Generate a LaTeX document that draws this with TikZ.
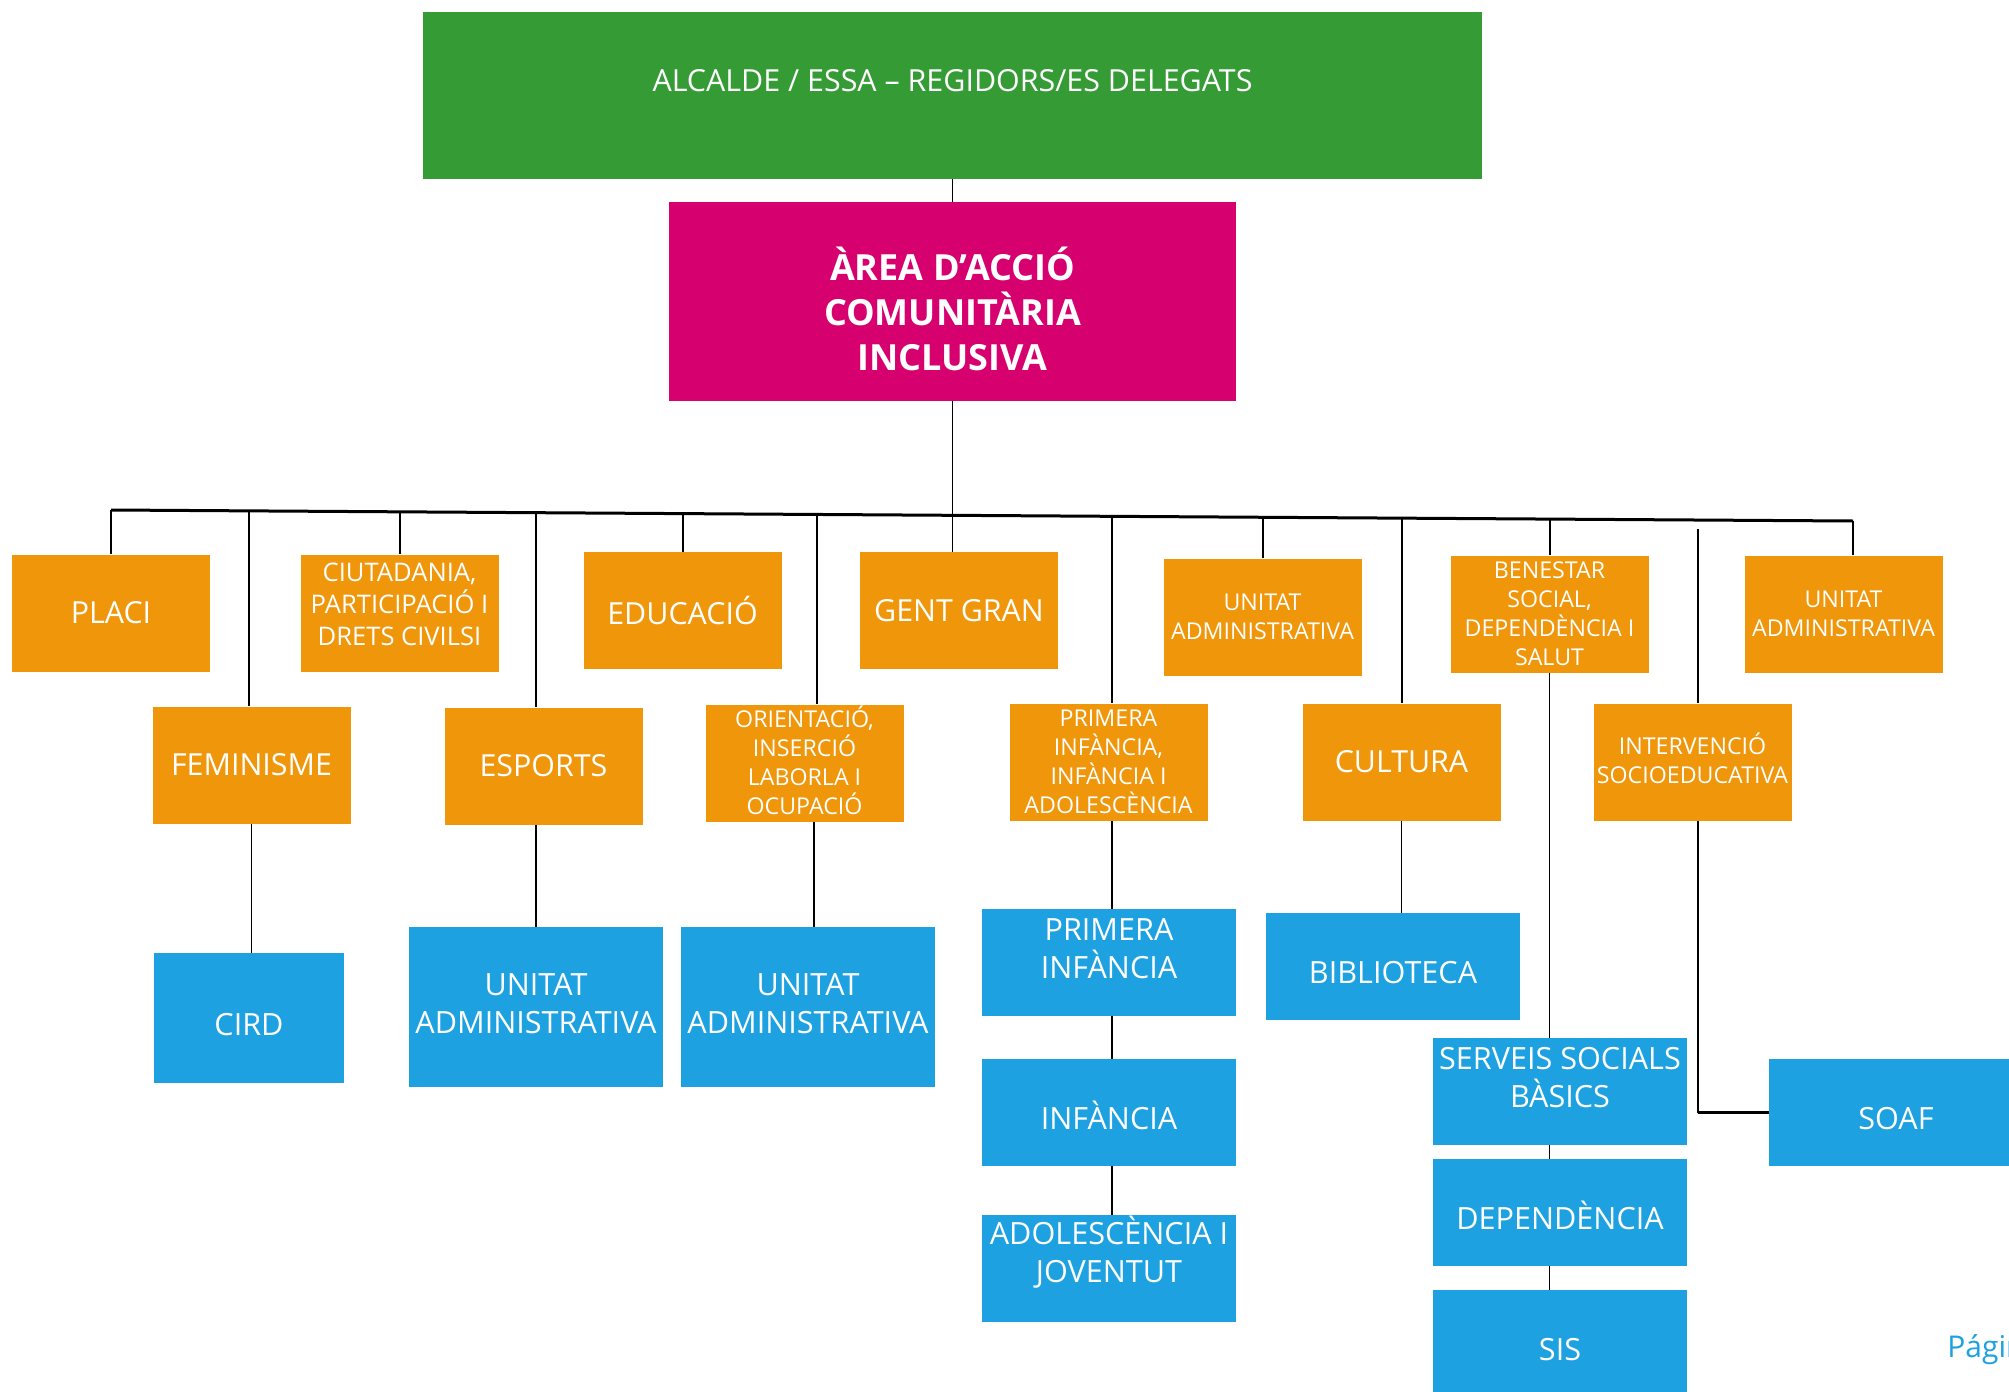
\documentclass[tikz,border=0pt]{standalone}
\usepackage{fontspec}
\setmainfont{Open Sans}
\usetikzlibrary{calc}
\definecolor{cgreen}{HTML}{359B35}
\definecolor{cmag}{HTML}{D6006F}
\definecolor{corange}{HTML}{EF960B}
\definecolor{cblue}{HTML}{1DA1E0}
\newcommand{\dn}[1]{\rule[-#1]{0pt}{#1}}
\newcommand{\upstrut}[1]{\rule{0pt}{#1}}
\begin{document}
\begin{tikzpicture}[x=0.5pt,y=-0.5pt,
  box/.style={inner sep=0pt, text=white, align=center},
  orow/.style={box, fill=corange, minimum width=99pt, minimum height=58.5pt},
  big/.style={font=\fontsize{15.2}{18}\selectfont},
  small/.style={font=\fontsize{11.6}{14.5}\selectfont},
  bluebox/.style={box, fill=cblue, minimum width=127pt, minimum height=53.5pt, font=\fontsize{15.3}{19}\selectfont},
  one/.style={text height=17pt, text depth=0pt},
  conn/.style={line width=0.9pt, black},
  bus/.style={line width=1.5pt, black}]
\path[use as bounding box] (0,0) rectangle (2009,1392);
\clip (0,0) rectangle (2009,1392);

% top
\node[box, fill=cgreen, minimum width=529.5pt, minimum height=83.5pt,
  font=\fontsize{15.2}{18}\selectfont, text height=11pt, text depth=15pt] (top) at (952.5,95.5)
  {ALCALDE / ESSA – REGIDORS/ES DELEGATS};
\node[box, fill=cmag, minimum width=283.5pt, minimum height=99.5pt,
  font=\bfseries\fontsize{18}{22.5}\selectfont] (area) at (952.5,301.5)
  {\upstrut{24pt}ÀREA D’ACCIÓ\\COMUNITÀRIA\\INCLUSIVA};

% row 1
\node[orow, big] (placi) at (111,613) {PLACI};
\node[orow, font=\fontsize{12.8}{16}\selectfont] (ciut) at (399.5,613) {CIUTADANIA,\\PARTICIPACIÓ I\\DRETS CIVILSI\dn{9pt}};
\node[orow, big] (educ) at (682.5,610.5) {EDUCACIÓ};
\node[orow, big] (gent) at (959,610.5) {GENT GRAN};
\node[orow, small] (unit1) at (1262.5,617) {UNITAT\\ADMINISTRATIVA};
\node[orow, small] (benes) at (1549.5,614) {BENESTAR\\SOCIAL,\\DEPENDÈNCIA I\\SALUT};
\node[orow, small] (unit2) at (1843.5,614) {UNITAT\\ADMINISTRATIVA};

% row 2
\node[orow, big] (fem) at (251.5,765) {FEMINISME};
\node[orow, big] (esp) at (543.5,766) {ESPORTS};
\node[orow, small] (orient) at (804.5,763) {ORIENTACIÓ,\\INSERCIÓ\\LABORLA I\\OCUPACIÓ\dn{3pt}};
\node[orow, small] (prim) at (1108.5,762) {PRIMERA\\INFÀNCIA,\\INFÀNCIA I\\ADOLESCÈNCIA};
\node[orow, big] (cult) at (1401.5,762) {CULTURA};
\node[orow, small] (inter) at (1692.5,762) {INTERVENCIÓ\\SOCIOEDUCATIVA\dn{4pt}};

% row 3 (blue)
\node[bluebox, one, minimum width=95pt, minimum height=65pt] (cird) at (249,1018) {CIRD};
\node[bluebox, minimum height=80pt] (ua1) at (536,1007) {UNITAT\\ADMINISTRATIVA\dn{3pt}};
\node[bluebox, minimum height=80pt] (ua2) at (808,1007) {UNITAT\\ADMINISTRATIVA\dn{3pt}};
\node[bluebox] (pinf) at (1109,962.5) {PRIMERA\\INFÀNCIA\dn{14pt}};
\node[bluebox, one] (inf) at (1109,1112.5) {INFÀNCIA};
\node[bluebox] (adol) at (1109,1268.5) {ADOLESCÈNCIA I\\JOVENTUT\dn{19pt}};
\node[bluebox, one] (bibl) at (1393,966.5) {BIBLIOTECA};
\node[bluebox] (serv) at (1560,1091.5) {SERVEIS SOCIALS\\BÀSICS\dn{14.5pt}};
\node[bluebox, one] (dep) at (1560,1212.5) {DEPENDÈNCIA};
\node[bluebox, one] (sis) at (1560,1343.5) {SIS};
\node[bluebox, one] (soaf) at (1896,1112.5) {SOAF};

\node[anchor=base west, inner sep=0pt, text=cblue, font=\fontsize{15}{18}\selectfont] (pag) at (1947,1357) {Página};

% connectors
\coordinate (bL) at (111,510);
\coordinate (bR) at (1853,521);
\draw[bus] (bL) -- (bR);
\draw[conn] (top.south) -- (area.north);
\draw[conn] (area.south) -- (area.south |- gent.north);

\coordinate (dFem) at ($(bL)!{138/1742}!(bR)$);
\coordinate (dCiut) at ($(bL)!{289/1742}!(bR)$);
\coordinate (dEsp) at ($(bL)!{425/1742}!(bR)$);
\coordinate (dEduc) at ($(bL)!{572/1742}!(bR)$);
\coordinate (dOri) at ($(bL)!{706/1742}!(bR)$);
\coordinate (dPrim) at ($(bL)!{1001/1742}!(bR)$);
\coordinate (dUnit) at ($(bL)!{1152/1742}!(bR)$);
\coordinate (dCult) at ($(bL)!{1291/1742}!(bR)$);
\coordinate (dBen) at ($(bL)!{1439/1742}!(bR)$);
\coordinate (iTop) at (1698,529);

\draw[conn] (bL) -- (bL |- placi.north);
\draw[conn] (dFem) -- (dFem |- fem.north);
\draw[conn] (dCiut) -- (dCiut |- ciut.north);
\draw[conn] (dEsp) -- (dEsp |- esp.north);
\draw[conn] (dEduc) -- (dEduc |- educ.north);
\draw[conn] (dOri) -- (dOri |- orient.north);
\draw[conn] (dPrim) -- (dPrim |- prim.north);
\draw[conn] (dUnit) -- (dUnit |- unit1.north);
\draw[conn] (dCult) -- (dCult |- cult.north);
\draw[conn] (dBen) -- (dBen |- benes.north);
\draw[conn] (iTop) -- (iTop |- inter.north);
\draw[conn] (bR) -- (bR |- unit2.north);

\draw[conn] (fem.south) -- (fem.south |- cird.north);
\draw[conn] (ua1.north |- esp.south) -- (ua1.north);
\draw[conn] ([xshift=3pt]ua2.north |- orient.south) -- ([xshift=3pt]ua2.north);
\draw[conn] ([xshift=1.5pt]pinf.north |- prim.south) -- ([xshift=1.5pt]pinf.north);
\draw[conn] ([xshift=1.5pt]pinf.south) -- ([xshift=1.5pt]inf.north);
\draw[conn] ([xshift=1.5pt]inf.south) -- ([xshift=1.5pt]adol.north);
\draw[conn] (cult.south) -- (cult.south |- bibl.north);
\draw[conn] (benes.south) -- (benes.south |- serv.north);
\draw[conn] (benes.south |- serv.south) -- (benes.south |- dep.north);
\draw[conn] (benes.south |- dep.south) -- (benes.south |- sis.north);
\draw[conn] (iTop |- inter.south) -- (iTop |- soaf.west);
\draw[bus] (iTop |- soaf.west) -- (soaf.west);
\end{tikzpicture}
\end{document}
